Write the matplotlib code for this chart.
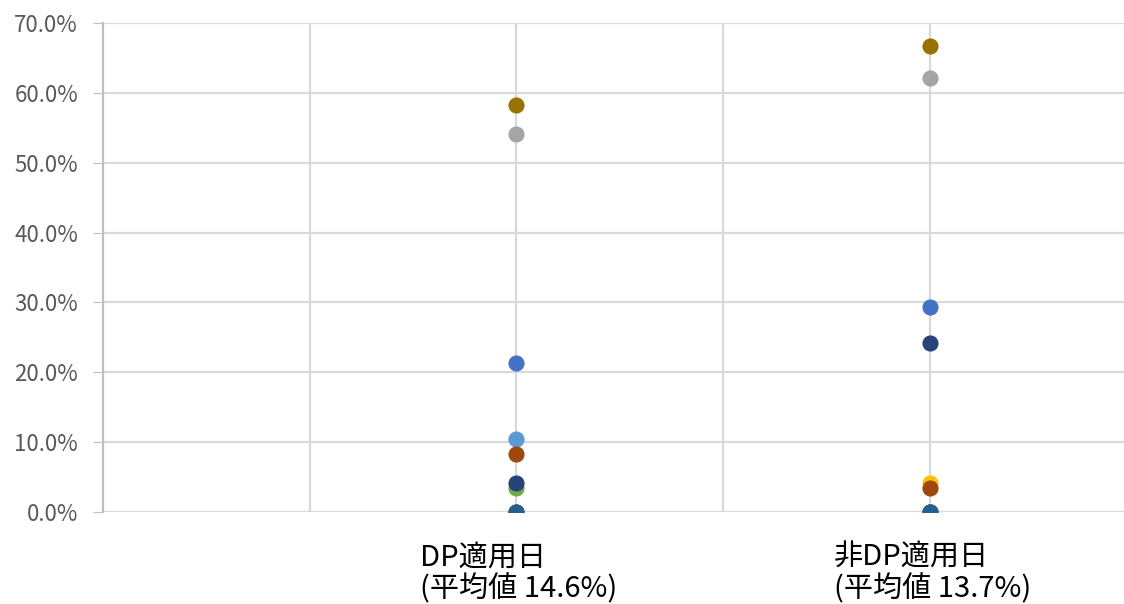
import numpy as np
import matplotlib.pyplot as plt
from matplotlib.ticker import PercentFormatter

plt.rcParams['font.family'] = ['Noto Sans CJK JP', 'DejaVu Sans']

# Data: share (%) per series on DP days and non-DP days
x_pos = [2, 4]
categories = ['DP適用日\n(平均値 14.6%)', '非DP適用日\n(平均値 13.7%)']
series_values = [
    [21.4, 29.4],
    [0.0, 0.0],
    [54.1, 62.1],
    [0.0, 4.2],
    [10.5, 0.0],
    [3.5, 0.0],
    [4.1, 24.2],
    [8.3, 3.4],
    [0.0, 0.0],
    [58.3, 66.7],
    [0.0, 0.0],
]
colors = ['#4472C4', '#ED7D31', '#A5A5A5', '#FFC000', '#5B9BD5', '#70AD47',
          '#264478', '#9E480E', '#636363', '#997300', '#255E91']

fig = plt.figure(figsize=(11.24, 6.04), dpi=100)
ax = fig.add_axes([103 / 1124, 92 / 604, 1021 / 1124, 489 / 604])

for vals, c in zip(series_values, colors):
    ax.scatter(x_pos, vals, s=135, color=c, zorder=3, linewidths=0)

ax.set_xlim(0, 1021 / 206.7)
ax.set_ylim(0, 70)
ax.set_yticks(np.arange(0, 71, 10))
ax.yaxis.set_major_formatter(PercentFormatter(decimals=1))
ax.set_xticks([1, 2, 3, 4])
ax.set_xticklabels([])
ax.tick_params(axis='x', length=0)
ax.tick_params(axis='y', length=7, color='#BFBFBF', labelsize=16,
               labelcolor='#595959', pad=11)
ax.grid(True, color='#D9D9D9', linewidth=1.6, zorder=0)
ax.set_axisbelow(True)
for side in ['top', 'right', 'bottom']:
    ax.spines[side].set_visible(False)
ax.spines['left'].set_color('#BFBFBF')
ax.spines['left'].set_linewidth(1.6)

# Category labels beneath the plot
for xp, label in zip(x_pos, categories):
    ax.text(xp + 0.012, -4.4, label, ha='center', va='top', multialignment='left',
            fontsize=21, color='black', linespacing=1.05,
            transform=ax.transData, clip_on=False)

fig.savefig('out.png', dpi=100)
